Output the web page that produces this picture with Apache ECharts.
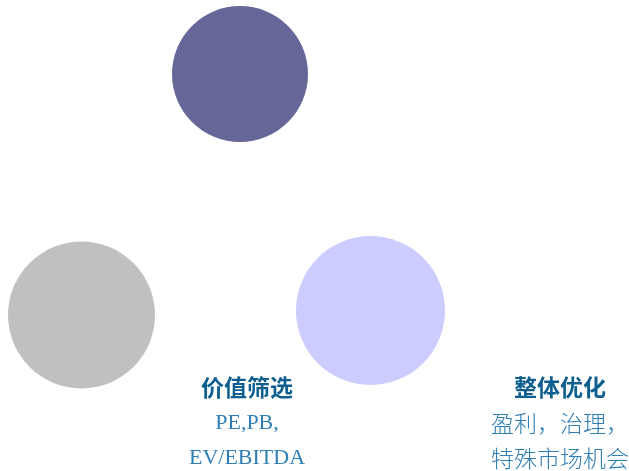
<!DOCTYPE html>
<html><head><meta charset="utf-8">
<script src="https://cdn.jsdelivr.net/npm/echarts@6/dist/echarts.min.js"></script>
<style>html,body{margin:0;padding:0;background:#fff}#c{width:629px;height:471px}</style>
</head><body><div id="c"></div>
<script>
// Bubble data: [x, y, diameter]
const circleNames = ['purple', 'gray', 'lavender'];
const circleX = [240, 81.5, 370.5];
const circleY = [74, 315, 310.5];
const circleSize = [136, 147, 149];
const circleColors = ['#666699', '#C0C0C0', '#CCCCFF'];

// Text blocks
const blockX = [247, 560];
const blockTitles = ['价值筛选', '整体优化'];
const blockLine1 = ['PE,PB,', '盈利，治理，'];
const blockLine2 = ['EV/EBITDA', '特殊市场机会'];
const titleY = [387, 387];
const line1Y = [423, 423];
const line2Y = [458, 458];

const chart = echarts.init(document.getElementById('c'), null, {renderer: 'canvas'});

const circleData = circleNames.map((n, i) => ({
  value: [circleX[i], circleY[i]],
  symbolSize: circleSize[i],
  itemStyle: {color: circleColors[i], opacity: 1}
}));

const latinFont = "'Liberation Serif', 'Noto Sans CJK SC', serif";
const cjkFont = "'Noto Sans CJK SC', sans-serif";
const isLatin = s => /^[\x00-\x7f]+$/.test(s);

function textSeries(xs, ys, texts, bold, color) {
  return {
    type: 'scatter',
    symbolSize: 0,
    silent: true,
    itemStyle: {opacity: 1},
    data: texts.map((t, i) => ({
      value: [xs[i], ys[i]],
      label: {
        show: true, position: 'inside', formatter: t,
        color: color,
        fontSize: isLatin(t) ? 22 : 23,
        fontWeight: bold ? 'bold' : (isLatin(t) ? 'normal' : 300),
        fontFamily: isLatin(t) ? latinFont : cjkFont
      }
    }))
  };
}

chart.setOption({
  animation: false,
  grid: {left: 0, right: 0, top: 0, bottom: 0},
  xAxis: {type: 'value', min: 0, max: 629, show: false},
  yAxis: {type: 'value', min: 0, max: 471, inverse: true, show: false},
  series: [
    {type: 'scatter', silent: true, itemStyle: {opacity: 1}, data: circleData},
    textSeries(blockX, titleY, blockTitles, true, '#0E5F8F'),
    textSeries(blockX, line1Y, blockLine1, false, '#2F7FB5'),
    textSeries(blockX, line2Y, blockLine2, false, '#2F7FB5')
  ]
});
</script></body></html>
